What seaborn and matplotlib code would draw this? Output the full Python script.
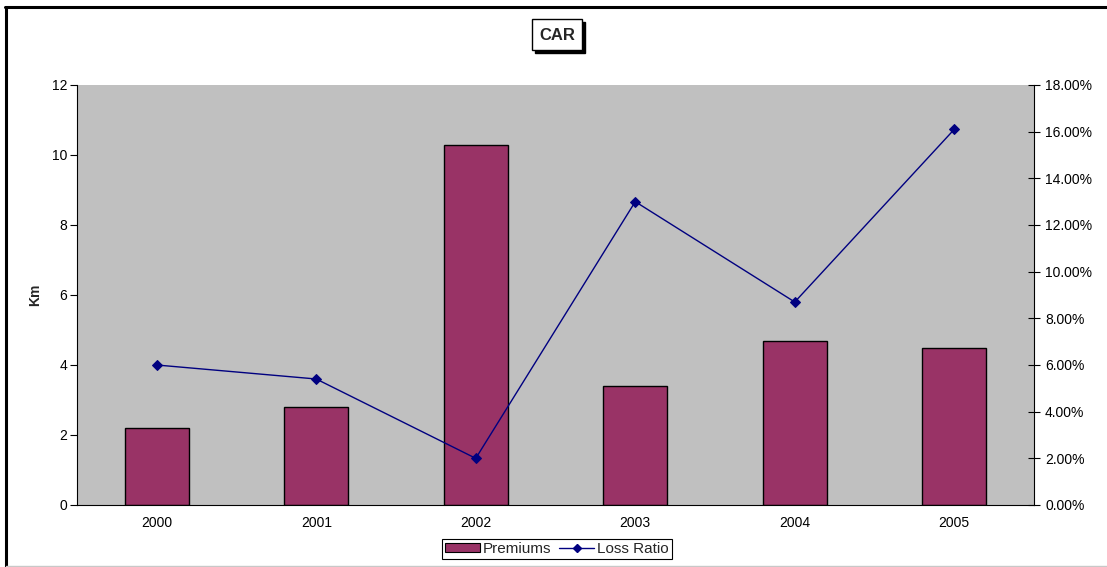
import matplotlib
matplotlib.use("Agg")
import matplotlib.pyplot as plt
import seaborn as sns
import pandas as pd
from matplotlib.patches import Rectangle
from matplotlib.lines import Line2D
from matplotlib.ticker import FuncFormatter, MultipleLocator

years = ["2000", "2001", "2002", "2003", "2004", "2005"]
premiums = [2.2, 2.8, 10.3, 3.4, 4.7, 4.5]
loss_ratio = [6.0, 5.4, 2.0, 13.0, 8.7, 16.1]  # percent

sns.set_theme(style="white")
plt.rcParams["font.family"] = ["Liberation Sans", "DejaVu Sans"]

W, H = 1107, 567
fig = plt.figure(figsize=(W / 100, H / 100), dpi=100)

def px(x0, y0, x1, y1):
    return [x0 / W, 1 - y1 / H, (x1 - x0) / W, (y1 - y0) / H]

FS = 10

ax = fig.add_axes(px(77, 85, 1034, 505))
ax.set_facecolor("#C0C0C0")

df = pd.DataFrame({"year": years, "premiums": premiums, "loss": loss_ratio})
sns.barplot(data=df, x="year", y="premiums", color="#993366", width=0.4,
            edgecolor="black", linewidth=1.0, saturation=1, ax=ax)

ax.set_xlim(-0.5, len(years) - 0.5)
ax.set_ylim(0, 12)
ax.yaxis.set_major_locator(MultipleLocator(2))
ax.set_xlabel("")
ax.set_ylabel("Km", fontsize=FS, fontweight="bold", labelpad=7)

# category boundaries carry the x tick marks, labels sit centred
ax.set_xticks([i + 0.5 for i in range(len(years) - 1)], minor=True)
ax.tick_params(axis="x", which="major", length=0, labelsize=FS, pad=8, colors="black")
ax.tick_params(axis="x", which="minor", length=5, width=0.8, direction="out", color="black")
ax.tick_params(axis="y", length=5, width=0.8, direction="out", labelsize=FS, colors="black",
               left=True, pad=2)

for s in ["left", "bottom"]:
    ax.spines[s].set_color("black")
    ax.spines[s].set_linewidth(0.8)
ax.spines["top"].set_visible(False)
ax.spines["right"].set_visible(False)

ax2 = ax.twinx()
sns.lineplot(data=df, x="year", y="loss", color="#000080", linewidth=1.0,
             marker="D", markersize=5, markeredgecolor="#000080", ax=ax2)
ax2.set_ylim(0, 18)
ax2.yaxis.set_major_locator(MultipleLocator(2))
ax2.yaxis.set_major_formatter(FuncFormatter(lambda v, p: f"{v:.2f}%"))
ax2.set_ylabel("")
ax2.tick_params(axis="y", length=8, width=0.8, direction="inout", labelsize=FS, colors="black",
                right=True, pad=4)
for s in ["left", "top", "bottom"]:
    ax2.spines[s].set_visible(False)
ax2.spines["right"].set_color("black")
ax2.spines["right"].set_linewidth(0.8)
ax.set_xlim(-0.5, len(years) - 0.5)

# title box with drop shadow
fig.patches.append(Rectangle((535 / W, 1 - 53 / H), 50 / W, 31 / H, transform=fig.transFigure,
                             facecolor="black", edgecolor="black", zorder=1))
fig.patches.append(Rectangle((532 / W, 1 - 50 / H), 50 / W, 31 / H, transform=fig.transFigure,
                             facecolor="white", edgecolor="black", linewidth=1.0, zorder=2))
fig.text(557 / W, 1 - 35 / H, "CAR", ha="center", va="center", fontsize=12,
         fontweight="bold", zorder=3)

# legend
handles = [Rectangle((0, 0), 1, 1, facecolor="#993366", edgecolor="black", linewidth=0.8),
           Line2D([0], [0], color="#000080", linewidth=1.0, marker="D", markersize=4)]
leg = fig.legend(handles, ["Premiums", "Loss Ratio"], loc="center",
                 bbox_to_anchor=(557 / W, 1 - 549 / H), ncol=2, fontsize=FS + 1,
                 frameon=True, fancybox=False, framealpha=1, edgecolor="black",
                 handlelength=2.3, handleheight=0.6, handletextpad=0.2,
                 columnspacing=0.5, borderpad=0.2, borderaxespad=0)
leg.get_frame().set_linewidth(0.8)

# outer chart border (left and top edges in view)
fig.add_artist(Line2D([6 / W, 6 / W], [0, 1 - 7 / H], transform=fig.transFigure,
                      color="black", linewidth=2.2))
fig.add_artist(Line2D([5 / W, 1], [1 - 7 / H, 1 - 7 / H], transform=fig.transFigure,
                      color="black", linewidth=2.2))
fig.add_artist(Line2D([6 / W, 1], [1 - 566 / H, 1 - 566 / H], transform=fig.transFigure,
                      color="#C8C8C8", linewidth=1.0))

fig.savefig("out.png", dpi=100)
